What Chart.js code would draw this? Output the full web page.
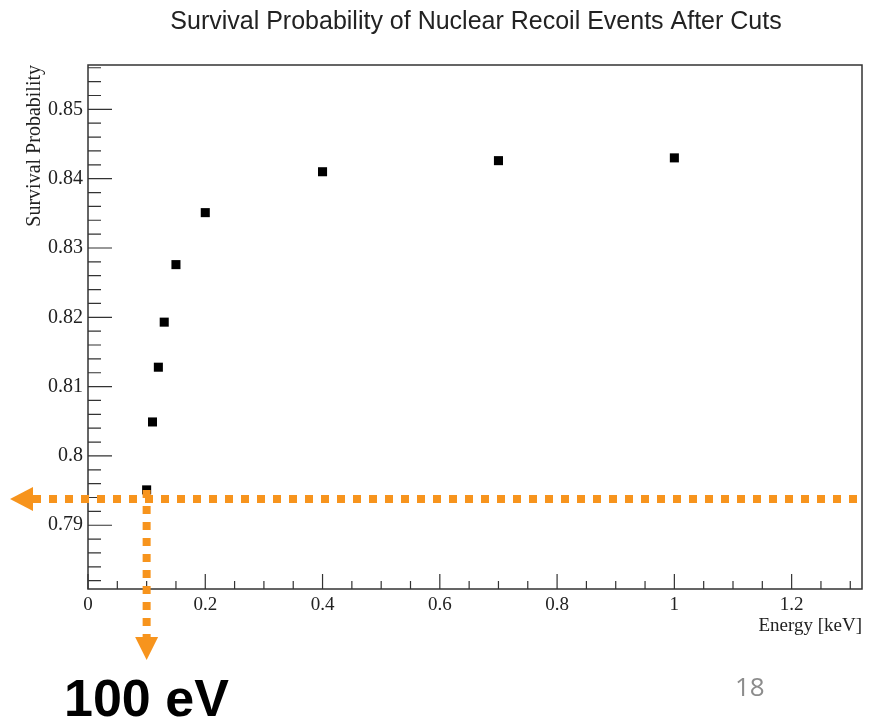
<!DOCTYPE html>
<html>
<head>
<meta charset="utf-8">
<script src="https://cdn.jsdelivr.net/npm/chart.js@4.4.1/dist/chart.umd.min.js"></script>
<style>
    html, body { margin: 0; padding: 0; background: #fff; }
    #wrap { width: 877px; height: 719px; }
</style>
</head>
<body>
<div id="wrap"><canvas id="chart" width="877" height="719"></canvas></div>
<script>
// Data
var energy = [0.1, 0.11, 0.12, 0.13, 0.15, 0.2, 0.4, 0.7, 1.0];
var survival = [0.7951, 0.8049, 0.8128, 0.8193, 0.8276, 0.8351, 0.841, 0.8426, 0.843];

var chartTitle = 'Survival Probability of Nuclear Recoil Events After Cuts';
var xTitle = 'Energy [keV]';
var yTitle = 'Survival Probability';

// Orange guide lines (cut at 100 eV)
var cutEnergy = 0.1;
var cutSurvival = 0.7938;
var cutLabel = '100 eV';
var pageNumber = '18';

var orange = '#f7941d';
var serif = '"Liberation Serif", "Times New Roman", serif';

var fmt = function (v) {
    return String(parseFloat(v.toFixed(3)));
};

// ROOT-like frame with inner ticks, guide lines and slide text
var rootFrame = {
    id: 'rootFrame',
    afterDraw: function (chart) {
        var ctx = chart.ctx;
        var area = chart.chartArea;
        var xs = chart.scales.x;
        var ys = chart.scales.y;
        var i, v, p, len;

        ctx.save();
        ctx.strokeStyle = '#333';
        ctx.lineWidth = 1.5;
        ctx.strokeRect(area.left, area.top, area.right - area.left, area.bottom - area.top);

        // x ticks: major every 0.2, minor every 0.05
        ctx.lineWidth = 1.2;
        ctx.beginPath();
        for (i = 0; i <= 40; i++) {
            v = i * 0.05;
            if (v > xs.max) break;
            p = xs.getPixelForValue(v);
            len = (i % 4 === 0) ? 15 : 8;
            ctx.moveTo(p, area.bottom);
            ctx.lineTo(p, area.bottom - len);
        }
        // y ticks: major every 0.01, minor every 0.002
        for (i = 385; i <= 430; i++) {
            v = i * 0.002;
            if (v < ys.min || v > ys.max) continue;
            p = ys.getPixelForValue(v);
            len = (i % 5 === 0) ? 24 : 13;
            ctx.moveTo(area.left, p);
            ctx.lineTo(area.left + len, p);
        }
        ctx.stroke();

        // dotted guide lines
        var hy = ys.getPixelForValue(cutSurvival);
        var vx = xs.getPixelForValue(cutEnergy);
        var vTop = ys.getPixelForValue(survival[0]);
        ctx.strokeStyle = orange;
        ctx.lineWidth = 8;
        ctx.setLineDash([8, 8]);
        ctx.beginPath();
        ctx.moveTo(area.right - 5, hy);
        ctx.lineTo(33, hy);
        ctx.stroke();
        ctx.beginPath();
        ctx.moveTo(vx, vTop);
        ctx.lineTo(vx, 640);
        ctx.stroke();
        ctx.setLineDash([]);

        // arrow heads
        ctx.fillStyle = orange;
        ctx.beginPath();
        ctx.moveTo(10, hy);
        ctx.lineTo(33, hy - 12);
        ctx.lineTo(33, hy + 12);
        ctx.closePath();
        ctx.fill();
        ctx.beginPath();
        ctx.moveTo(vx, 660);
        ctx.lineTo(vx - 11.5, 637);
        ctx.lineTo(vx + 11.5, 637);
        ctx.closePath();
        ctx.fill();

        // title
        ctx.fillStyle = '#222';
        ctx.font = '25px "Liberation Sans", Arial, sans-serif';
        ctx.textAlign = 'center';
        ctx.textBaseline = 'middle';
        ctx.fillText(chartTitle, 476, 22);

        // slide annotations
        ctx.fillStyle = '#000';
        ctx.font = 'bold 52px "Liberation Sans", Arial, sans-serif';
        ctx.textAlign = 'left';
        ctx.textBaseline = 'alphabetic';
        ctx.fillText(cutLabel, 64, 716);

        ctx.fillStyle = '#8c8c8c';
        ctx.font = '26px "Open Sans", sans-serif';
        ctx.fillText(pageNumber, 735, 696);
        ctx.restore();
    }
};

var ctx = document.getElementById('chart').getContext('2d');
var chart = new Chart(ctx, {
    type: 'scatter',
    data: {
        datasets: [{
            label: yTitle,
            data: energy.map(function (e, i) { return {x: e, y: survival[i]}; }),
            backgroundColor: '#000',
            pointStyle: 'rect',
            pointRadius: 6.4,
            pointBorderWidth: 0
        }]
    },
    options: {
        responsive: false,
        animation: false,
        layout: {
            padding: {left: 0, top: 65, right: 15, bottom: 82}
        },
        plugins: {
            legend: {display: false},
            tooltip: {enabled: false}
        },
        scales: {
            x: {
                type: 'linear',
                min: 0,
                max: 1.32,
                grid: {display: false, drawTicks: false, tickLength: 0},
                border: {display: false},
                ticks: {
                    stepSize: 0.2,
                    includeBounds: false,
                    padding: 5,
                    color: '#222',
                    font: {family: serif, size: 19},
                    callback: fmt,
                    maxRotation: 0
                },
                title: {
                    display: true,
                    text: xTitle,
                    align: 'end',
                    color: '#222',
                    font: {family: serif, size: 19},
                    padding: 0
                },
                afterFit: function (scale) { scale.height = 48; }
            },
            y: {
                type: 'linear',
                min: 0.7808,
                max: 0.8564,
                grid: {display: false, drawTicks: false, tickLength: 0},
                border: {display: false},
                ticks: {
                    stepSize: 0.01,
                    includeBounds: false,
                    padding: 5,
                    color: '#222',
                    font: {family: serif, size: 20},
                    callback: fmt
                },
                title: {
                    display: true,
                    text: yTitle,
                    align: 'end',
                    color: '#222',
                    font: {family: serif, size: 20},
                    padding: {top: 23, bottom: 0}
                },
                afterFit: function (scale) { scale.width = 88; }
            }
        }
    },
    plugins: [rootFrame]
});
</script>
</body>
</html>
